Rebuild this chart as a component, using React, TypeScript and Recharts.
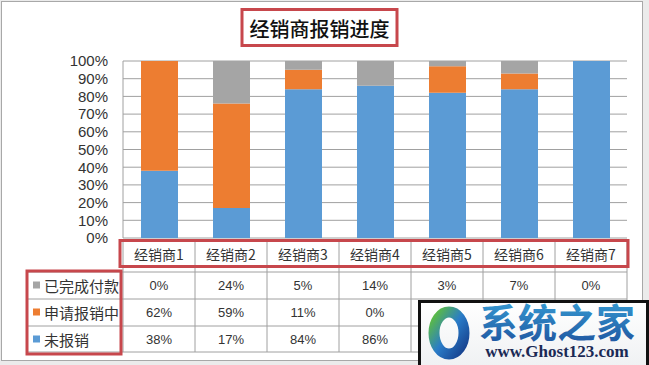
import React from 'react';
import { BarChart, Bar, XAxis, YAxis, CartesianGrid } from 'recharts';

const categories = ['经销商1', '经销商2', '经销商3', '经销商4', '经销商5', '经销商6', '经销商7'];
const paid = [0, 24, 5, 14, 3, 7, 0];
const applying = [62, 59, 11, 0, 15, 9, 0];
const unpaid = [38, 17, 84, 86, 82, 84, 100];
const seriesNames = ['已完成付款', '申请报销中', '未报销'];
const seriesColors = ['#a5a5a5', '#ed7d31', '#5b9bd5'];
const yTicks = [0, 10, 20, 30, 40, 50, 60, 70, 80, 90, 100];
const titleText = '经销商报销进度';

const data = categories.map((c, i) => ({ name: c, paid: paid[i], applying: applying[i], unpaid: unpaid[i] }));
const rows = [paid, applying, unpaid];

const W = 649;
const H = 365;
const CAT_TOP = 241;
const CAT_Y = 254;
const ROW_Y = [285, 312, 339];
const ROW_LINES = [272, 299, 326, 352];
const TABLE_BOTTOM = 352;
const RED = '#c7474c';
const GRID = '#a0a0a0';
const TEXT = '#333333';
const FONT = '"Noto Sans CJK SC", "Liberation Sans", sans-serif';

const TableTick = (props: any) => {
  const { x, payload, index, width } = props;
  const colW = width / categories.length;
  const left = x - colW / 2;
  const right = x + colW / 2;
  return (
    <g>
      <line x1={left} y1={CAT_TOP} x2={left} y2={TABLE_BOTTOM} stroke={GRID} strokeWidth={1} />
      {index === categories.length - 1 && (
        <line x1={right} y1={CAT_TOP} x2={right} y2={TABLE_BOTTOM} stroke={GRID} strokeWidth={1} />
      )}
      <text x={x} y={CAT_Y} textAnchor="middle" dominantBaseline="central" fontSize={14} fill={TEXT} fontFamily={FONT}>
        {payload.value}
      </text>
      {rows.map((r, k) => (
        <text key={k} x={x} y={ROW_Y[k]} textAnchor="middle" dominantBaseline="central" fontSize={13} fill={TEXT} fontFamily='"Liberation Sans", sans-serif'>
          {`${r[index]}%`}
        </text>
      ))}
    </g>
  );
};

export default function App() {
  return (
    <div style={{ position: 'absolute', left: 0, top: 0, width: W, height: H, background: '#ebebeb', fontFamily: FONT }}>
      <svg width={W} height={H} style={{ position: 'absolute', left: 0, top: 0 }}>
        <rect x={1.5} y={1.5} width={641} height={359} fill="#ffffff" stroke="#a8a8a8" strokeWidth={1} />
      </svg>
      <div style={{ position: 'absolute', left: 0, top: 0 }}>
        <BarChart
          width={W}
          height={H}
          data={data}
          margin={{ top: 61, right: 22, left: 0, bottom: 0 }}
          barSize={37}
        >
          <CartesianGrid vertical={false} stroke={GRID} />
          <XAxis
            dataKey="name"
            type="category"
            height={127}
            axisLine={false}
            tickLine={false}
            interval={0}
            tick={<TableTick />}
          />
          <YAxis
            type="number"
            domain={[0, 100]}
            ticks={yTicks}
            tickFormatter={(v: number) => `${v}%`}
            width={123}
            axisLine={{ stroke: GRID }}
            tickLine={false}
            tickSize={0}
            tickMargin={15}
            tick={{ fill: TEXT, fontSize: 15, fontFamily: '"Liberation Sans", sans-serif' }}
            interval={0}
          />
          <Bar dataKey="unpaid" stackId="a" fill={seriesColors[2]} isAnimationActive={false} />
          <Bar dataKey="applying" stackId="a" fill={seriesColors[1]} isAnimationActive={false} />
          <Bar dataKey="paid" stackId="a" fill={seriesColors[0]} isAnimationActive={false} />
        </BarChart>
      </div>
      <svg width={W} height={H} style={{ position: 'absolute', left: 0, top: 0, pointerEvents: 'none' }}>
        {ROW_LINES.map((y, i) => (
          <line key={i} x1={27} y1={y} x2={627} y2={y} stroke={GRID} strokeWidth={1} />
        ))}
        {/* title */}
        <rect x={242} y={9.5} width={155} height={36} fill="#ffffff" stroke={RED} strokeWidth={3} />
        <text x={319.5} y={28} textAnchor="middle" dominantBaseline="central" fontSize={20} fontWeight={500} fill="#111" fontFamily={FONT}>
          {titleText}
        </text>
        {/* category red box */}
        <rect x={120} y={240.5} width={508} height={26} fill="none" stroke={RED} strokeWidth={3} />
        {/* legend box */}
        <rect x={27} y={271} width={94} height={83} fill="none" stroke={RED} strokeWidth={3} />
        {seriesNames.map((n, i) => (
          <g key={n}>
            <rect x={33} y={ROW_Y[i] - 3.5} width={7} height={7} fill={seriesColors[i]} />
            <text x={44} y={ROW_Y[i]} dominantBaseline="central" fontSize={15} fill={TEXT} fontFamily={FONT}>
              {n}
            </text>
          </g>
        ))}
        {/* watermark */}
        <defs>
          <linearGradient id="wmText" x1="0" y1="0" x2="0" y2="1">
            <stop offset="0" stopColor="#3aa8dc" />
            <stop offset="1" stopColor="#1d4f9c" />
          </linearGradient>
          <linearGradient id="wmBg" x1="0" y1="0" x2="0" y2="1">
            <stop offset="0" stopColor="#ffffff" />
            <stop offset="1" stopColor="#eef0f2" />
          </linearGradient>
          <linearGradient id="wmRing" x1="0" y1="0" x2="1" y2="1">
            <stop offset="0" stopColor="#5fc03a" />
            <stop offset="0.5" stopColor="#2a7cc8" />
            <stop offset="1" stopColor="#163f8c" />
          </linearGradient>
        </defs>
        <rect x={419.5} y={301.5} width={228} height={70} fill="url(#wmBg)" stroke="#111" strokeWidth={3} />
        <ellipse cx={449} cy={333} rx={15} ry={21} fill="none" stroke="url(#wmRing)" strokeWidth={11} />
        <text x={557} y={320} textAnchor="middle" dominantBaseline="central" fontSize={39} fontWeight={700} fill="url(#wmText)" fontFamily={FONT}>
          系统之家
        </text>
        <text x={557} y={351} textAnchor="middle" dominantBaseline="central" fontSize={17} fontWeight={700} fill="#1b2a55" fontFamily='"Liberation Serif", "DejaVu Serif", serif'>
          www.Ghost123.com
        </text>
      </svg>
    </div>
  );
}
